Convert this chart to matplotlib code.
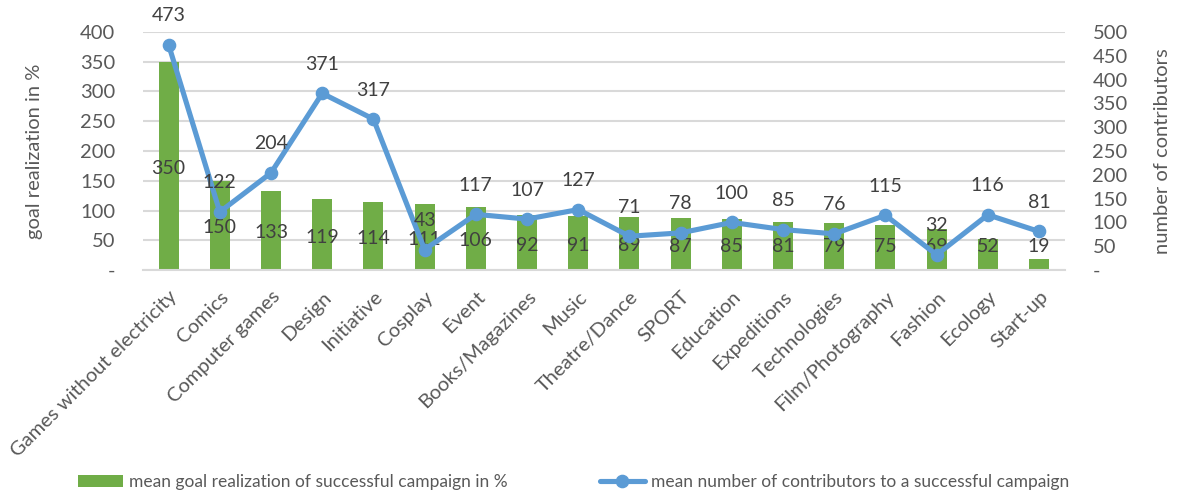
import matplotlib.pyplot as plt
from matplotlib.ticker import FuncFormatter

plt.rcParams['font.family'] = ['Lato', 'DejaVu Sans']

categories = ["Games without electricity", "Comics", "Computer games", "Design",
              "Initiative", "Cosplay", "Event", "Books/Magazines", "Music",
              "Theatre/Dance", "SPORT", "Education", "Expeditions", "Technologies",
              "Film/Photography", "Fashion", "Ecology", "Start-up"]
goal_pct = [350, 150, 133, 119, 114, 111, 106, 92, 91, 89, 87, 85, 81, 79, 75, 69, 52, 19]
contributors = [473, 122, 204, 371, 317, 43, 117, 107, 127, 71, 78, 100, 85, 76, 115, 32, 116, 81]

bar_name = "mean goal realization of successful campaign in %"
line_name = "mean number of contributors to a successful campaign"

green = "#70AD47"
blue = "#5B9BD5"
txt = "#404040"
grey = "#595959"
fs = 14.5

fig = plt.figure(figsize=(11.79, 4.91), dpi=100)
ax = fig.add_axes([0.1213, 0.450, 0.7817, 0.485])
ax2 = ax.twinx()

x = list(range(len(categories)))
bars = ax.bar(x, goal_pct, width=0.39, color=green, zorder=2, label=bar_name)
line, = ax2.plot(x, contributors, color=blue, lw=3.7, marker='o', ms=8.8,
                 zorder=3, label=line_name, solid_capstyle='round')

ax.set_xlim(-0.5, len(categories) - 0.5)
ax.set_ylim(0, 400)
ax2.set_ylim(0, 500)
ax.set_yticks(range(0, 401, 50))
ax2.set_yticks(range(0, 501, 50))

dash = FuncFormatter(lambda v, p: "-" if v == 0 else f"{int(v)}")
ax.yaxis.set_major_formatter(dash)
ax2.yaxis.set_major_formatter(dash)

ax.grid(axis='y', color='#D9D9D9', lw=1.5, zorder=0)
ax.set_axisbelow(True)
for a in (ax, ax2):
    for s in a.spines.values():
        s.set_visible(False)
    a.tick_params(length=0, labelsize=fs, labelcolor=grey)
ax.spines['bottom'].set_visible(True)
ax.spines['bottom'].set_color('#D9D9D9')
ax.spines['bottom'].set_linewidth(1.5)

ax.set_xticks(x)
ax.set_xticklabels(categories, rotation=45, ha='right', va='top',
                   rotation_mode='anchor')
ax.tick_params(axis='x', pad=13)
ax.tick_params(axis='y', pad=20)
ax2.tick_params(axis='y', pad=20)

ax.set_ylabel("goal realization in %", fontsize=fs, color=grey)
ax2.set_ylabel("number of contributors", fontsize=fs, color=grey)
ax.yaxis.set_label_coords(-0.108, 0.5)
ax2.yaxis.set_label_coords(1.097, 0.5)

# bar labels (centered inside, with a floor for short bars)
for xi, v in zip(x, goal_pct):
    ax.text(xi, max(v / 2 - 4, 40), str(v), ha='center', va='center',
            fontsize=14, color=txt, zorder=5)

# line labels above the points
for xi, v in zip(x, contributors):
    ax2.annotate(str(v), (xi, v), xytext=(0, 29), textcoords='offset pixels',
                 ha='center', va='center', fontsize=14, color=txt, zorder=5)

fig.legend(handles=[bars, line], loc='center left', bbox_to_anchor=(0.066, 0.018),
           ncol=2, frameon=False, fontsize=12.5, labelcolor=grey,
           borderpad=0, borderaxespad=0,
           handlelength=2.6, columnspacing=5.3, handletextpad=0.35)

fig.savefig("out.png", dpi=100)
